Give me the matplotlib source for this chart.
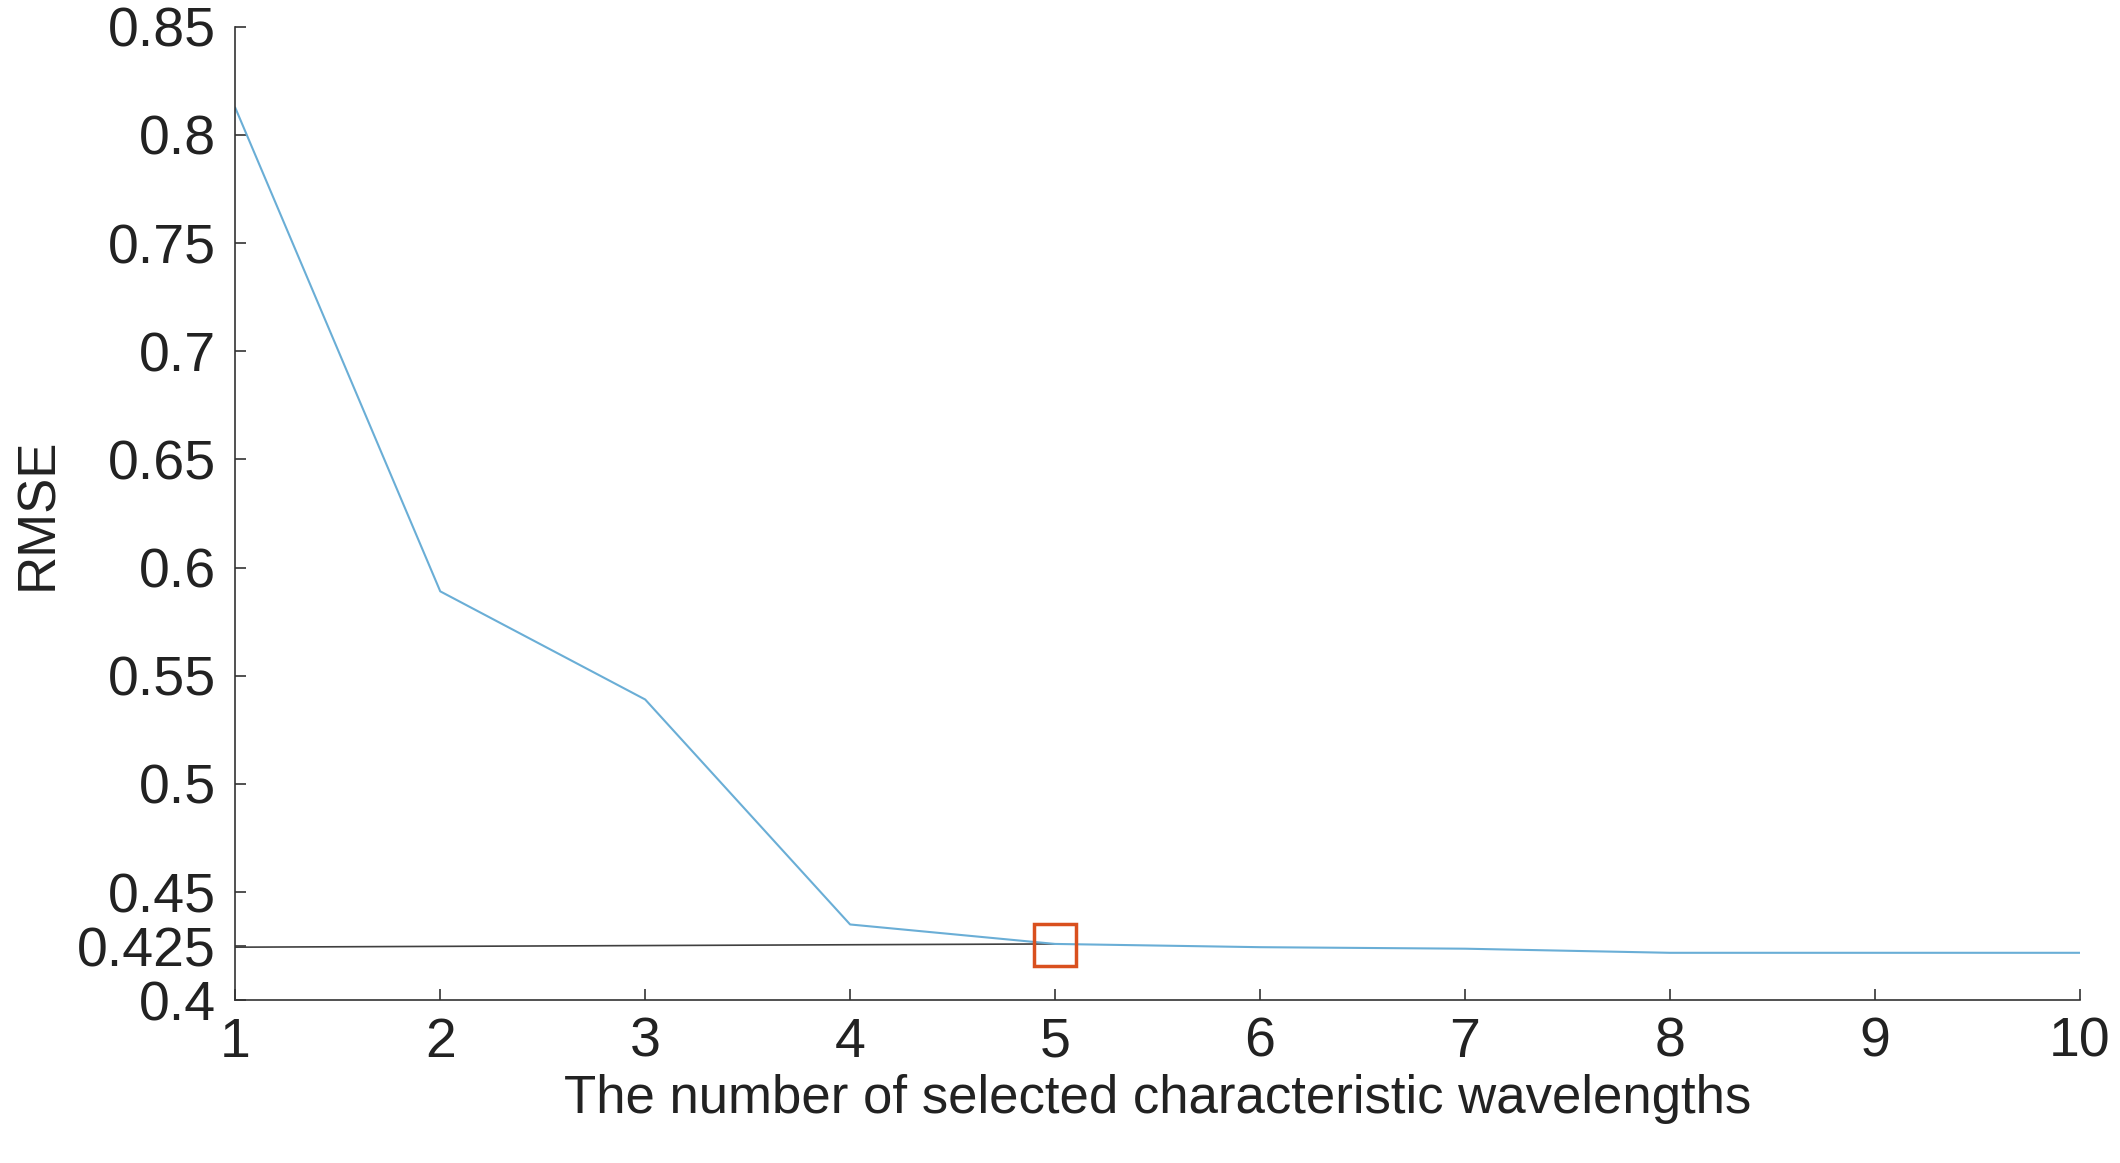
import matplotlib.pyplot as plt

plt.rcParams["font.family"] = ["Liberation Sans", "DejaVu Sans"]

n_wavelengths = [1, 2, 3, 4, 5, 6, 7, 8, 9, 10]
rmse = [0.8125, 0.589, 0.539, 0.435, 0.426, 0.4245, 0.4238, 0.4219, 0.4219, 0.4219]
ref_x = [1, 5]
ref_y = [0.4245, 0.426]
best_x = 5
best_y = 0.4255
y_ticks = [0.4, 0.425, 0.45, 0.5, 0.55, 0.6, 0.65, 0.7, 0.75, 0.8, 0.85]
y_labels = ["0.4", "0.425", "0.45", "0.5", "0.55", "0.6", "0.65", "0.7", "0.75", "0.8", "0.85"]

fig = plt.figure(figsize=(21.2, 11.63), dpi=100)
ax = fig.add_axes([0.111, 0.14, 0.87, 0.837])

ax.plot(ref_x, ref_y, color="#404040", linewidth=1.2)
ax.plot(n_wavelengths, rmse, color="#6aaed6", linewidth=1.5)
ax.plot([best_x], [best_y], marker="s", markersize=30, markerfacecolor="none",
        markeredgecolor="#d9501e", markeredgewidth=2.5, linestyle="none")

ax.set_xlim(1, 10)
ax.set_ylim(0.4, 0.85)
ax.set_xticks(n_wavelengths)
ax.set_yticks(y_ticks)
ax.set_yticklabels(y_labels)
ax.tick_params(direction="in", labelsize=40, length=8, width=1.2, color="#333333",
               labelcolor="#222222")
ax.tick_params(axis="y", pad=14)
ax.tick_params(axis="x", pad=12)
for side in ["top", "right"]:
    ax.spines[side].set_visible(False)
for side in ["left", "bottom"]:
    ax.spines[side].set_color("#333333")
    ax.spines[side].set_linewidth(1.2)

ax.set_xlabel("The number of selected characteristic wavelengths", fontsize=38,
              color="#222222", labelpad=4)
ax.set_ylabel("RMSE", fontsize=38, color="#222222", labelpad=10)

fig.savefig("out.png", dpi=100)
